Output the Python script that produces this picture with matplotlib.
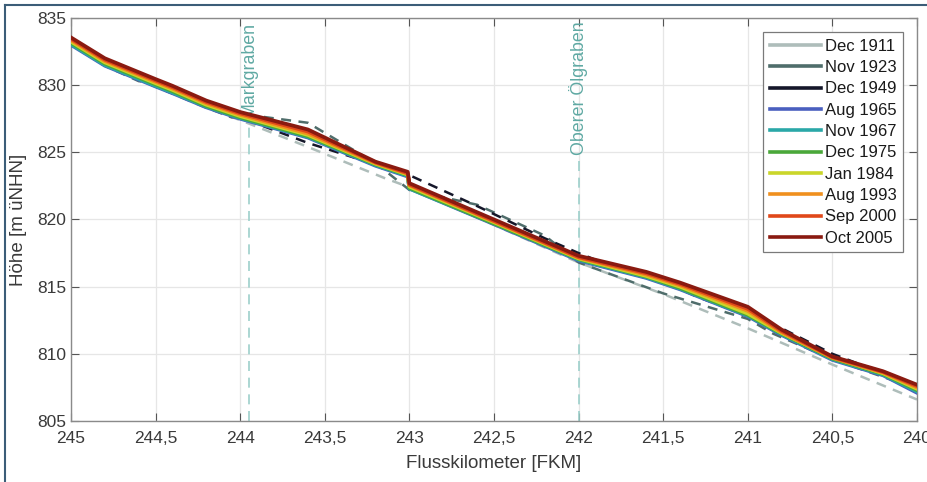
import matplotlib
matplotlib.use("Agg")
import matplotlib.pyplot as plt
from matplotlib.lines import Line2D

plt.rcParams['font.family'] = ['Liberation Sans', 'DejaVu Sans']

# Flusskilometer grid for recent surveys (243.01 / 243.0 = step at weir)
km_new = [245.0, 244.8, 244.5, 244.4, 244.2, 244.0, 243.6, 243.2, 243.01, 243.0,
          242.5, 242.0, 241.6, 241.4, 241.0, 240.8, 240.5, 240.2, 240.0]
aug_1965 = [833.0, 831.45, 829.9, 829.4, 828.35, 827.5, 826.1, 824.0, 823.2, 822.3,
            819.65, 816.95, 815.65, 814.8, 812.8, 811.4, 809.55, 808.4, 807.1]
nov_1967 = [833.05, 831.5, 829.95, 829.45, 828.4, 827.55, 826.15, 824.05, 823.25, 822.3,
            819.7, 817.0, 815.7, 814.85, 812.85, 811.45, 809.6, 808.45, 807.2]
dec_1975 = [833.15, 831.6, 830.05, 829.55, 828.45, 827.6, 826.2, 824.1, 823.3, 822.35,
            819.7, 817.05, 815.75, 814.9, 812.9, 811.5, 809.65, 808.5, 807.3]
jan_1984 = [833.25, 831.7, 830.15, 829.65, 828.55, 827.7, 826.3, 824.15, 823.35, 822.45,
            819.8, 817.1, 815.8, 815.0, 813.0, 811.55, 809.75, 808.55, 807.4]
aug_1993 = [833.35, 831.8, 830.25, 829.75, 828.65, 827.8, 826.4, 824.2, 823.4, 822.55,
            819.85, 817.15, 815.9, 815.1, 813.2, 811.6, 809.7, 808.6, 807.5]
sep_2000 = [833.45, 831.9, 830.35, 829.85, 828.75, 827.9, 826.55, 824.25, 823.45, 822.6,
            819.9, 817.2, 816.0, 815.2, 813.35, 811.7, 809.75, 808.65, 807.6]
oct_2005 = [833.55, 832.0, 830.45, 829.95, 828.85, 828.0, 826.7, 824.3, 823.55, 822.7,
            820.0, 817.3, 816.1, 815.3, 813.5, 811.8, 809.8, 808.7, 807.7]

# older surveys
km_1911 = [245.0, 244.8, 244.5, 244.2, 244.0, 243.6, 243.15, 243.0, 242.5, 242.0,
           241.5, 241.0, 240.5, 240.0]
dec_1911 = [833.1, 831.5, 829.9, 828.3, 827.4, 825.4, 823.1, 822.4, 819.6, 816.8,
            814.45, 811.9, 809.2, 806.6]
km_1923 = [245.0, 244.8, 244.6, 244.5, 244.2, 244.05, 243.9, 243.6, 243.2, 243.0,
           242.6, 242.2, 242.0, 241.5, 241.0, 240.85, 240.5, 240.0]
nov_1923 = [833.05, 831.45, 830.3, 830.15, 828.35, 827.6, 827.7, 827.2, 824.2, 822.2,
            821.1, 818.8, 816.8, 814.5, 812.6, 811.5, 809.6, 807.4]
km_1949 = [245.0, 244.8, 244.5, 244.2, 244.0, 243.6, 243.0, 242.6, 242.2, 242.0,
           241.9, 241.5, 241.3, 240.8, 240.5, 240.25, 240.0]
dec_1949 = [833.1, 831.5, 829.9, 828.35, 827.6, 825.7, 823.3, 821.0, 818.6, 817.5,
            817.0, 815.4, 814.25, 811.9, 810.0, 808.8, 807.5]

labels = ["Dec 1911", "Nov 1923", "Dec 1949", "Aug 1965", "Nov 1967",
          "Dec 1975", "Jan 1984", "Aug 1993", "Sep 2000", "Oct 2005"]
colors = ['#aebdba', '#4f6d6b', '#15172a', '#4a5fbf', '#2aa8a8',
          '#4aa83a', '#cad62a', '#f0901e', '#e0481a', '#8a1a10']

tributaries = ["Markgraben", "Oberer Ölgraben"]
trib_km = [243.95, 242.0]
trib_label_y = [827.6, 824.8]

fig = plt.figure(figsize=(9.28, 4.82), dpi=100)
ax = fig.add_axes([71 / 928, 61 / 482, 846 / 928, 403 / 482])

for k, ly, name in zip(trib_km, trib_label_y, tributaries):
    ax.plot([k, k], [805, ly - 0.4], color='#9dd0cb', lw=1.2, dashes=(6, 4), zorder=1)
    ax.text(k, ly, name, rotation=90, ha='center', va='bottom', color='#5fa9a3',
            fontsize=12.8, zorder=1)

old = [(km_1911, dec_1911), (km_1923, nov_1923), (km_1949, dec_1949)]
for (k, v), c in zip(old, colors[:3]):
    ax.plot(k, v, color=c, lw=1.8, dashes=(4, 3), zorder=2)

new = [aug_1965, nov_1967, dec_1975, jan_1984, aug_1993, sep_2000, oct_2005]
for v, c in zip(new, colors[3:]):
    ax.plot(km_new, v, color=c, lw=2.7, zorder=3, solid_joinstyle='round')

ax.set_xlim(245, 240)
ax.set_ylim(805, 835)
xt = [245, 244.5, 244, 243.5, 243, 242.5, 242, 241.5, 241, 240.5, 240]
ax.set_xticks(xt)
ax.set_xticklabels([f"{t:g}".replace('.', ',') for t in xt])
ax.set_yticks(range(805, 836, 5))
ax.grid(True, color='#e6e6e6', lw=0.9)
ax.set_axisbelow(True)
ax.tick_params(direction='in', length=6, width=0.8, colors='#555555',
               labelcolor='#3a3a3a', labelsize=12.5, top=True, right=True)
ax.tick_params(axis='x', pad=7)
for s in ax.spines.values():
    s.set_color('#8a8a8a')
    s.set_linewidth(1.0)
ax.set_xlabel('Flusskilometer [FKM]', fontsize=13.5, color='#3a3a3a', labelpad=7)
ax.set_ylabel('Höhe [m üNHN]', fontsize=13.5, color='#3a3a3a', labelpad=7)

handles = [Line2D([], [], color=c, lw=2.6) for c in colors]
leg = ax.legend(handles, labels, loc='upper right', bbox_to_anchor=(0.9835, 0.965),
                borderaxespad=0, fontsize=12, handlelength=3.1, handletextpad=0.2,
                labelspacing=0.38, borderpad=0.4, fancybox=False, framealpha=1)
leg.get_frame().set_edgecolor('#7a7a7a')
leg.get_frame().set_linewidth(0.9)
for t in leg.get_texts():
    t.set_color('#1a1a1a')

# outer frame (left and top edges visible)
fig.add_artist(Line2D([4.5 / 928, 4.5 / 928], [0, 1 - 4.5 / 482], color='#3b5d78',
                      lw=1.5, transform=fig.transFigure))
fig.add_artist(Line2D([4.5 / 928, 1], [1 - 4.5 / 482, 1 - 4.5 / 482], color='#3b5d78',
                      lw=1.5, transform=fig.transFigure))

fig.savefig('out.png', dpi=100)
